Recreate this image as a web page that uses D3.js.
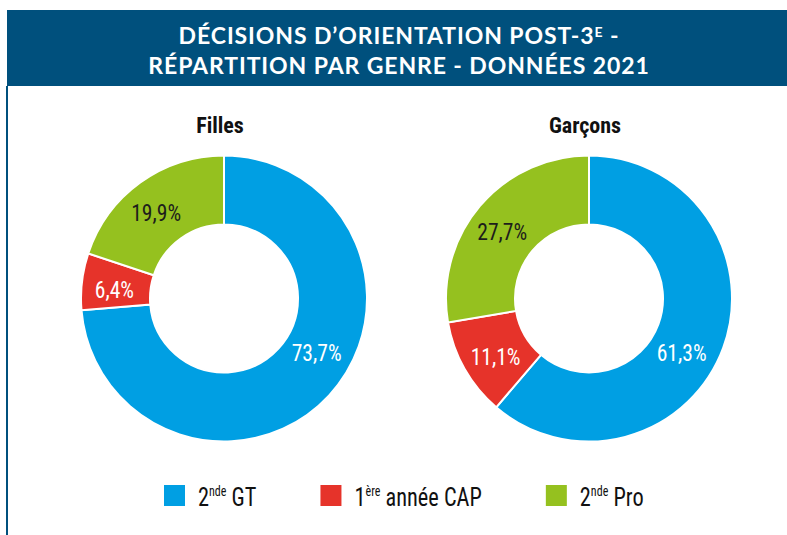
<!DOCTYPE html>
<html>
<head>
<meta charset="utf-8">
<script src="https://cdn.jsdelivr.net/npm/d3@7"></script>
<style>
  body { margin: 0; background: #fff; }
  svg { display: block; }
</style>
</head>
<body>
<svg id="chart" width="787" height="535"></svg>
<script>
const categories = ["2nde GT", "1ère année CAP", "2nde Pro"];
const groups = ["Filles", "Garçons"];
const filles = [73.7, 6.4, 19.9];
const garcons = [61.3, 11.1, 27.7];
const titleLines = ["DÉCISIONS D’ORIENTATION POST-3|E| -", "RÉPARTITION PAR GENRE - DONNÉES 2021"];

const colors = ["#009fe3", "#e6332a", "#95c11f"];
const labelColors = ["#fff", "#fff", "#1d1d1b"];
const navy = "#00507d";
const condensed = "'Roboto Condensed', 'Liberation Sans Narrow', 'DejaVu Sans Condensed', Roboto, sans-serif";

const svg = d3.select("#chart");
const width = 787;

// frame + header
svg.append("rect").attr("x", 7).attr("y", 10).attr("width", width - 7).attr("height", 76).attr("fill", navy);
svg.append("rect").attr("x", 6).attr("y", 86).attr("width", 2).attr("height", 535 - 86).attr("fill", navy);

const title = svg.append("text")
    .attr("fill", "#fff")
    .attr("text-anchor", "middle")
    .style("font-family", "Lato, 'Open Sans', sans-serif")
    .style("font-weight", "700")
    .style("font-size", "23px")
    .style("letter-spacing", "0.9px");

titleLines.forEach((line, i) => {
    const parts = line.split("|");
    const t = title.append("tspan").attr("x", 399).attr("y", i === 0 ? 44 : 74);
    t.text(parts[0]);
    if (parts.length > 1) {
        title.append("tspan").attr("dy", -7).style("font-size", "14px").text(parts[1]);
        title.append("tspan").attr("dy", 7).text(parts[2]);
    }
});

// donuts
const outerR = 143, innerR = 74;
const centers = d3.scalePoint().domain(groups).range([224, 589]);
const cy = 298.5;

const pie = d3.pie().sort(null).value(d => d);
const arc = d3.arc().innerRadius(innerR).outerRadius(outerR);
const fmt = v => d3.format(".1f")(v).replace(".", ",") + "%";

[filles, garcons].forEach((values, gi) => {
    const cx = centers(groups[gi]);
    const g = svg.append("g").attr("transform", `translate(${cx},${cy})`);

    svg.append("text")
        .attr("x", cx - 4)
        .attr("y", 133)
        .attr("text-anchor", "middle")
        .style("font-family", condensed)
        .style("font-weight", "700")
        .style("font-size", "22px")
        .attr("fill", "#111")
        .text(groups[gi]);

    const slices = pie(values);
    g.selectAll("path")
        .data(slices)
        .join("path")
        .attr("d", arc)
        .attr("fill", (d, i) => colors[i])
        .attr("stroke", "#fff")
        .attr("stroke-width", 2);

    g.selectAll("text.lbl")
        .data(slices)
        .join("text")
        .attr("class", "lbl")
        .attr("transform", (d, i) => {
            // big slice label sits lower-right, others near the centroid
            const a = i === 0 ? Math.PI * 2 / 3 : (d.startAngle + d.endAngle) / 2 - 0.04;
            const r = i === 0 ? 107 : 110;
            return `translate(${r * Math.sin(a)},${-r * Math.cos(a)}) scale(0.9,1)`;
        })
        .attr("text-anchor", "middle")
        .attr("dy", "0.36em")
        .style("font-family", condensed)
        .style("font-size", "24px")
        .attr("fill", (d, i) => labelColors[i])
        .text(d => fmt(d.data));
});

// legend
const legend = svg.append("g");
let lx = 164;
categories.forEach((c, i) => {
    const item = legend.append("g").attr("transform", `translate(${lx},485)`);
    item.append("rect").attr("width", 21).attr("height", 21).attr("fill", colors[i]);
    const m = c.match(/^(\d)(nde|ère)(.*)$/);
    const t = item.append("text")
        .attr("transform", "translate(34,21) scale(0.86,1)")
        .style("font-family", condensed)
        .style("font-size", "26px")
        .attr("fill", "#111");
    t.append("tspan").text(m[1]);
    t.append("tspan").attr("dy", -10).style("font-size", "14px").text(m[2]);
    t.append("tspan").attr("dy", 10).text(m[3]);
    lx += 34 + t.node().getComputedTextLength() * 0.86 + 64;
});
</script>
</body>
</html>
